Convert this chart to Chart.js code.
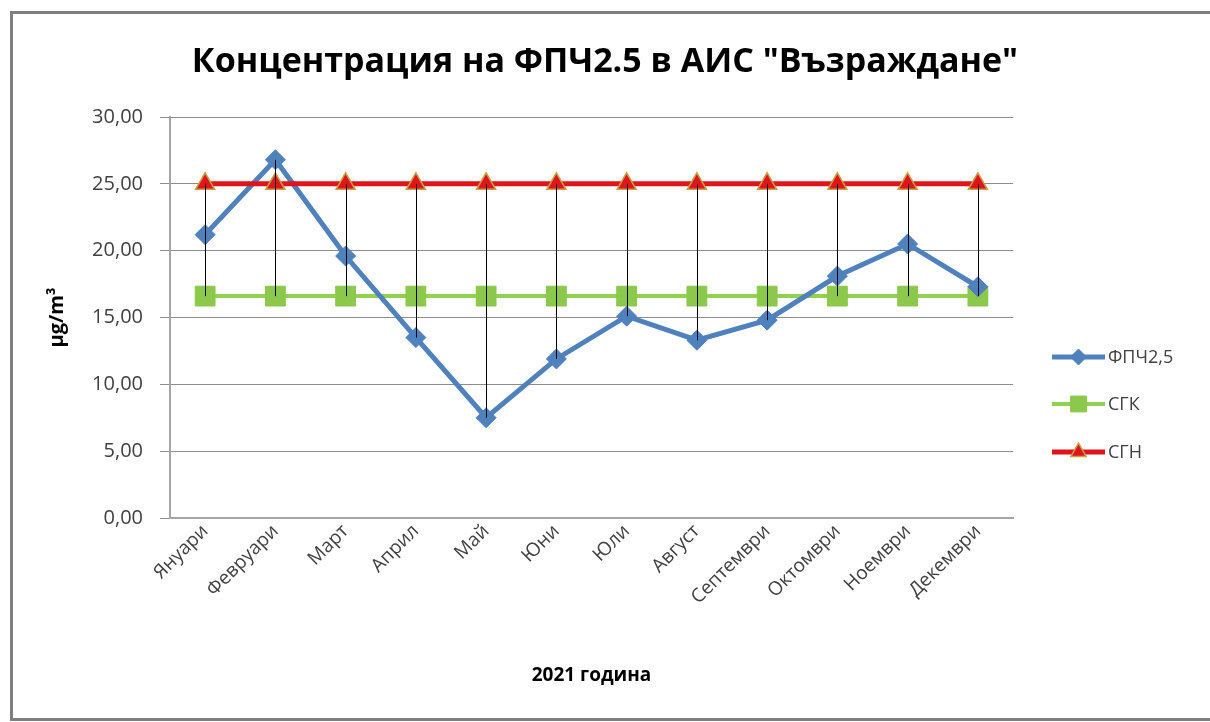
<!DOCTYPE html>
<html lang="bg">
<head>
<meta charset="utf-8">
<title>ФПЧ2.5 Възраждане</title>
<script src="https://cdn.jsdelivr.net/npm/chart.js@4.4.1/dist/chart.umd.min.js"></script>
<style>
    html, body { margin: 0; padding: 0; background: #fff; overflow: hidden; }
    #wrap { position: relative; width: 1210px; height: 722px; }
    #frame {
        position: absolute; left: 10px; top: 11px; width: 1300px; height: 710px;
        box-sizing: border-box; border: 3px solid #7f7f7f;
    }
    #chart { position: absolute; left: 0; top: 0; }
</style>
</head>
<body>
<div id="wrap">
    <div id="frame"></div>
    <canvas id="chart" width="1210" height="722"></canvas>
</div>
<script>
// Месеци
const months = ['Януари', 'Февруари', 'Март', 'Април', 'Май', 'Юни', 'Юли', 'Август', 'Септември', 'Октомври', 'Ноември', 'Декември'];

// Средномесечни стойности ФПЧ2,5 (µg/m³)
const pm25 = [21.2, 26.8, 19.6, 13.5, 7.5, 11.9, 15.1, 13.3, 14.8, 18.1, 20.5, 17.3];
// СГК
const sgk = [16.6, 16.6, 16.6, 16.6, 16.6, 16.6, 16.6, 16.6, 16.6, 16.6, 16.6, 16.6];
// СГН
const sgn = [25, 25, 25, 25, 25, 25, 25, 25, 25, 25, 25, 25];

const seriesNames = ['ФПЧ2,5', 'СГК', 'СГН'];
const chartTitle = 'Концентрация на ФПЧ2.5 в АИС "Възраждане"';

const FONT = "'Open Sans', 'Noto Sans', sans-serif";
const TEXT_COLOR = '#404040';

// Заглавие - центрирано по цялата ширина (не само над графиката)
const centerTitle = {
    id: 'centerTitle',
    afterDraw(chart) {
        const ctx = chart.ctx;
        ctx.save();
        ctx.fillStyle = '#000';
        ctx.font = 'bold 34px ' + FONT;
        ctx.textAlign = 'center';
        ctx.textBaseline = 'middle';
        ctx.fillText(chartTitle, chart.width / 2, 62);
        ctx.restore();
    }
};

// Вертикални линии между най-високата и най-ниската стойност (като high-low lines в Excel)
const highLowLines = {
    id: 'highLowLines',
    afterDatasetsDraw(chart) {
        const ctx = chart.ctx;
        const y = chart.scales.y;
        const x = chart.scales.x;
        ctx.save();
        ctx.strokeStyle = '#000';
        ctx.lineWidth = 1;
        months.forEach((m, i) => {
            const vals = chart.data.datasets.map(ds => ds.data[i]);
            const px = Math.round(x.getPixelForValue(i)) + 0.5;
            ctx.beginPath();
            ctx.moveTo(px, y.getPixelForValue(Math.max(...vals)));
            ctx.lineTo(px, y.getPixelForValue(Math.min(...vals)));
            ctx.stroke();
        });
        ctx.restore();
    }
};

// Легенда вдясно - линия с маркер, както в Excel
const sideLegend = {
    id: 'sideLegend',
    afterDraw(chart) {
        const ctx = chart.ctx;
        const area = chart.chartArea;
        const offsets = [240, 287, 335];
        ctx.save();
        chart.data.datasets.forEach((ds, i) => {
            const yy = area.top + offsets[i];
            const x0 = area.right + 39;
            const x1 = area.right + 92;
            ctx.strokeStyle = ds.borderColor;
            ctx.lineWidth = ds.borderWidth;
            ctx.beginPath();
            ctx.moveTo(x0, yy);
            ctx.lineTo(x1, yy);
            ctx.stroke();
            ctx.fillStyle = ds.pointBackgroundColor;
            ctx.strokeStyle = ds.pointBorderColor;
            ctx.lineWidth = ds.pointBorderWidth;
            Chart.helpers.drawPoint(ctx, {
                pointStyle: ds.pointStyle,
                radius: ds.pointRadius * 0.8,
                rotation: 0,
                borderWidth: ds.pointBorderWidth
            }, (x0 + x1) / 2, yy);
            ctx.fillStyle = TEXT_COLOR;
            ctx.font = '18px ' + FONT;
            ctx.textBaseline = 'middle';
            ctx.textAlign = 'left';
            ctx.fillText(ds.label, x1 + 3, yy + 1);
        });
        ctx.restore();
    }
};

const ctx = document.getElementById('chart').getContext('2d');
new Chart(ctx, {
    type: 'line',
    data: {
        labels: months,
        datasets: [
            {
                label: seriesNames[0], data: pm25, order: 1,
                borderColor: '#4f81bd', borderWidth: 5,
                pointStyle: 'rectRot', pointRadius: 10, pointHoverRadius: 10,
                pointBackgroundColor: '#4f81bd', pointBorderColor: '#4f81bd', pointBorderWidth: 1
            },
            {
                label: seriesNames[1], data: sgk, order: 2,
                borderColor: '#92d050', borderWidth: 4,
                pointStyle: 'rect', pointRadius: 14, pointHoverRadius: 14,
                pointBackgroundColor: '#8cc84b', pointBorderColor: '#8cc84b', pointBorderWidth: 1
            },
            {
                label: seriesNames[2], data: sgn, order: 0,
                borderColor: '#e0141c', borderWidth: 5,
                pointStyle: 'triangle', pointRadius: 11, pointHoverRadius: 11,
                pointBackgroundColor: '#e0141c', pointBorderColor: '#c8a042', pointBorderWidth: 1.5
            }
        ]
    },
    options: {
        responsive: false,
        animation: false,
        layout: { padding: { left: 20, right: 197, top: 117, bottom: 20 } },
        plugins: {
            legend: { display: false },
            tooltip: { enabled: false },
            title: { display: false }
        },
        scales: {
            x: {
                offset: true,
                afterFit: s => { s.height = 184; },
                grid: { display: false, drawTicks: false, offset: true },
                border: { display: true, color: '#a6a6a6', width: 2 },
                ticks: {
                    color: TEXT_COLOR, padding: 2,
                    maxRotation: 45, minRotation: 45,
                    font: { family: FONT, size: 19 }
                },
                title: {
                    display: true, text: '2021 година', color: '#000',
                    font: { family: FONT, size: 19, weight: 'bold' },
                    padding: { top: 0, bottom: 15 }
                }
            },
            y: {
                min: 0, max: 30,
                afterFit: s => { s.width = 150; },
                grid: { color: '#8c8c8c', lineWidth: 1, tickLength: 10 },
                border: { display: true, color: '#a6a6a6', width: 2 },
                ticks: {
                    stepSize: 5, color: TEXT_COLOR, padding: 17,
                    font: { family: FONT, size: 20 },
                    callback: v => v.toFixed(2).replace('.', ',')
                },
                title: {
                    display: true, text: 'µg/m³', color: '#000',
                    font: { family: FONT, size: 20, weight: 'bold' },
                    padding: { top: 25, bottom: 0 }
                }
            }
        }
    },
    plugins: [centerTitle, highLowLines, sideLegend]
});
</script>
</body>
</html>
